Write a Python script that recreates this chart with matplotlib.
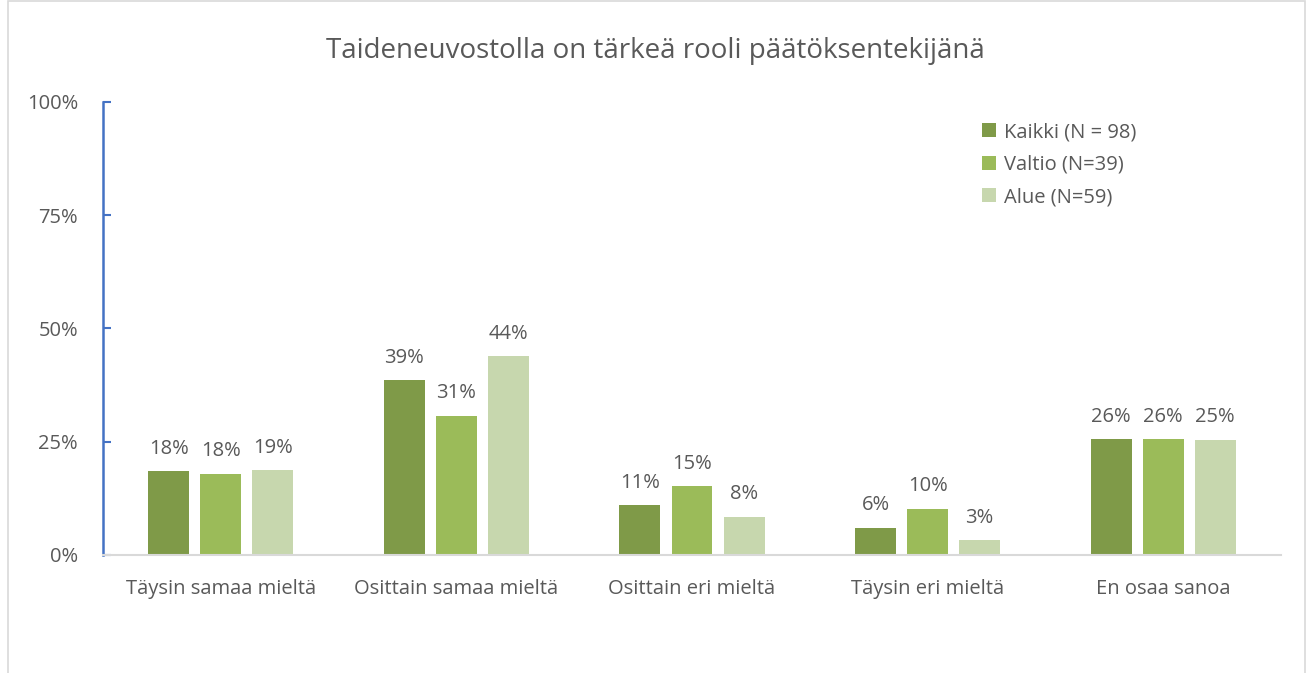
import matplotlib.pyplot as plt
import numpy as np
from matplotlib.patches import Rectangle

plt.rcParams['font.family'] = ['Open Sans', 'DejaVu Sans']

categories = ['Täysin samaa mieltä', 'Osittain samaa mieltä', 'Osittain eri mieltä',
              'Täysin eri mieltä', 'En osaa sanoa']
series = ['Kaikki (N = 98)', 'Valtio (N=39)', 'Alue (N=59)']
kaikki = [18.5, 38.6, 11.0, 6.0, 25.5]
valtio = [17.9, 30.7, 15.2, 10.2, 25.6]
alue = [18.7, 43.9, 8.4, 3.3, 25.4]
kaikki_lbl = ['18%', '39%', '11%', '6%', '26%']
valtio_lbl = ['18%', '31%', '15%', '10%', '26%']
alue_lbl = ['19%', '44%', '8%', '3%', '25%']
colors = ['#7F9A48', '#9BBB59', '#C7D7AE']
txt = '#595959'
fs = 14.5

fig = plt.figure(figsize=(13.11, 6.73), dpi=100)
ax = fig.add_axes([103 / 1311, 1 - 555 / 673, (1281 - 103) / 1311, (555 - 102) / 673])

x = np.arange(len(categories))
w = 0.174
step = 0.221
for i, (vals, lbls) in enumerate(zip([kaikki, valtio, alue], [kaikki_lbl, valtio_lbl, alue_lbl])):
    pos = x + (i - 1) * step
    ax.bar(pos, vals, width=w, color=colors[i], label=series[i])
    for px, v, l in zip(pos, vals, lbls):
        ax.annotate(l, (px, v), xytext=(0, 9), textcoords='offset points',
                    ha='center', va='bottom', fontsize=fs, color=txt)

ax.set_xlim(-0.5, 4.5)
ax.set_ylim(0, 100)
ax.set_yticks([0, 25, 50, 75, 100])
ax.set_yticklabels(['0%', '25%', '50%', '75%', '100%'])
ax.set_xticks(x)
ax.set_xticklabels(categories)
ax.tick_params(axis='x', length=0, pad=17, labelsize=fs, labelcolor=txt)
ax.tick_params(axis='y', direction='in', length=6, width=1.5, color='#4472C4',
               pad=18, labelsize=fs, labelcolor=txt)
for s in ['top', 'right']:
    ax.spines[s].set_visible(False)
ax.spines['left'].set_color('#4472C4')
ax.spines['left'].set_linewidth(1.8)
ax.spines['bottom'].set_color('#D9D9D9')
ax.spines['bottom'].set_linewidth(1.5)

leg = ax.legend(loc='upper left', bbox_to_anchor=(0.731, 0.995), frameon=False,
                fontsize=fs, handlelength=0.7, handleheight=0.7,
                handletextpad=0.4, labelspacing=0.62)
for t in leg.get_texts():
    t.set_color(txt)

fig.text(0.5, 1 - 51 / 673, 'Taideneuvostolla on tärkeä rooli päätöksentekijänä',
         ha='center', va='center', fontsize=20, color=txt)

fig.patches.append(Rectangle((8 / 1311, -0.05), 1297 / 1311, 1.05 - 1 / 673,
                             transform=fig.transFigure, fill=False,
                             edgecolor='#D9D9D9', linewidth=1.2))

fig.savefig('out.png', dpi=100)
